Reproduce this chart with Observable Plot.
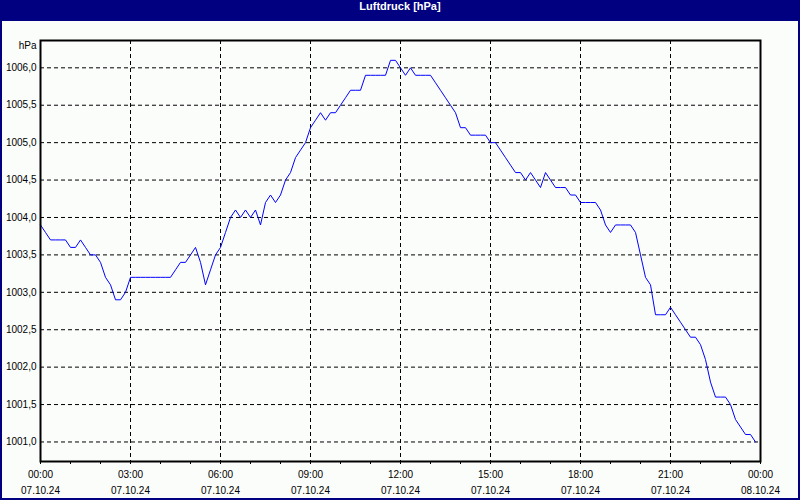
<!DOCTYPE html>
<html>
<head>
<meta charset="utf-8">
<script src="https://cdn.jsdelivr.net/npm/d3@7"></script>
<script src="https://cdn.jsdelivr.net/npm/@observablehq/plot@0.6"></script>
<style>
  html, body { margin: 0; padding: 0; background: #fff; }
  #wrap { position: relative; width: 800px; height: 500px; background: #000080; overflow: hidden; }
  #title { position: absolute; left: 0; top: 0; width: 800px; height: 21px; line-height: 20px; text-align: center;
           color: #fff; font: bold 11px "Liberation Sans", "DejaVu Sans", sans-serif; }
  #inner { position: absolute; left: 2px; top: 21px; width: 796px; height: 477px; background: #fbfdfb; }
  #chart { position: absolute; left: 0; top: 21px; }
  #chart svg { background: transparent; }
</style>
</head>
<body>
<div id="wrap">
  <div id="title">Luftdruck [hPa]</div>
  <div id="inner"></div>
  <div id="chart"></div>
</div>
<script>
// 10-minute readings, 07.10.24 00:00 – 23:50
const times = [
  "00:00","00:10","00:20","00:30","00:40","00:50","01:00","01:10","01:20","01:30","01:40","01:50",
  "02:00","02:10","02:20","02:30","02:40","02:50","03:00","03:10","03:20","03:30","03:40","03:50",
  "04:00","04:10","04:20","04:30","04:40","04:50","05:00","05:10","05:20","05:30","05:40","05:50",
  "06:00","06:10","06:20","06:30","06:40","06:50","07:00","07:10","07:20","07:30","07:40","07:50",
  "08:00","08:10","08:20","08:30","08:40","08:50","09:00","09:10","09:20","09:30","09:40","09:50",
  "10:00","10:10","10:20","10:30","10:40","10:50","11:00","11:10","11:20","11:30","11:40","11:50",
  "12:00","12:10","12:20","12:30","12:40","12:50","13:00","13:10","13:20","13:30","13:40","13:50",
  "14:00","14:10","14:20","14:30","14:40","14:50","15:00","15:10","15:20","15:30","15:40","15:50",
  "16:00","16:10","16:20","16:30","16:40","16:50","17:00","17:10","17:20","17:30","17:40","17:50",
  "18:00","18:10","18:20","18:30","18:40","18:50","19:00","19:10","19:20","19:30","19:40","19:50",
  "20:00","20:10","20:20","20:30","20:40","20:50","21:00","21:10","21:20","21:30","21:40","21:50",
  "22:00","22:10","22:20","22:30","22:40","22:50","23:00","23:10","23:20","23:30","23:40","23:50"
];
const pressure = [
  1003.9,1003.8,1003.7,1003.7,1003.7,1003.7,1003.6,1003.6,1003.7,1003.6,1003.5,1003.5,
  1003.4,1003.2,1003.1,1002.9,1002.9,1003.0,1003.2,1003.2,1003.2,1003.2,1003.2,1003.2,
  1003.2,1003.2,1003.2,1003.3,1003.4,1003.4,1003.5,1003.6,1003.4,1003.1,1003.3,1003.5,
  1003.6,1003.8,1004.0,1004.1,1004.0,1004.1,1004.0,1004.1,1003.9,1004.2,1004.3,1004.2,
  1004.3,1004.5,1004.6,1004.8,1004.9,1005.0,1005.2,1005.3,1005.4,1005.3,1005.4,1005.4,
  1005.5,1005.6,1005.7,1005.7,1005.7,1005.9,1005.9,1005.9,1005.9,1005.9,1006.1,1006.1,
  1006.0,1005.9,1006.0,1005.9,1005.9,1005.9,1005.9,1005.8,1005.7,1005.6,1005.5,1005.4,
  1005.2,1005.2,1005.1,1005.1,1005.1,1005.1,1005.0,1005.0,1004.9,1004.8,1004.7,1004.6,
  1004.6,1004.5,1004.6,1004.5,1004.4,1004.6,1004.5,1004.4,1004.4,1004.4,1004.3,1004.3,
  1004.2,1004.2,1004.2,1004.2,1004.1,1003.9,1003.8,1003.9,1003.9,1003.9,1003.9,1003.8,
  1003.5,1003.2,1003.1,1002.7,1002.7,1002.7,1002.8,1002.7,1002.6,1002.5,1002.4,1002.4,
  1002.3,1002.1,1001.8,1001.6,1001.6,1001.6,1001.5,1001.3,1001.2,1001.1,1001.1,1001.0
];
const yTicks = [1001.0,1001.5,1002.0,1002.5,1003.0,1003.5,1004.0,1004.5,1005.0,1005.5,1006.0];
const xTickTimes = ["00:00","03:00","06:00","09:00","12:00","15:00","18:00","21:00","00:00"];
const xTickDates = ["07.10.24","07.10.24","07.10.24","07.10.24","07.10.24","07.10.24","07.10.24","07.10.24","08.10.24"];
const yUnit = "hPa";

const day0 = Date.UTC(2024, 9, 7);
const toDate = (s, dayOffset = 0) => {
  const [h, m] = s.split(":").map(Number);
  return new Date(day0 + dayOffset * 86400000 + (h * 60 + m) * 60000);
};
const data = times.map((t, i) => ({date: toDate(t), value: pressure[i]}));
const majorTicks = xTickTimes.map((t, i) => ({date: toDate(t, i === xTickTimes.length - 1 ? 1 : 0), time: t, day: xTickDates[i]}));
const hourTicks = d3.utcHours(new Date(day0), new Date(day0 + 86400000 + 1));
const xDomain = [new Date(day0), new Date(day0 + 86400000)];
const font = "'Liberation Sans', 'DejaVu Sans', sans-serif";

const chart = Plot.plot({
  width: 800,
  height: 477,
  marginLeft: 40,
  marginRight: 40,
  marginTop: 19,
  marginBottom: 37,
  style: {fontFamily: font, fontSize: "10px", color: "#000", background: "transparent"},
  x: {type: "utc", domain: xDomain},
  y: {domain: [1000.739, 1006.365]},
  marks: [
    Plot.gridY(yTicks, {stroke: "#000", strokeOpacity: 1, strokeDasharray: "4,3", strokeWidth: 1}),
    Plot.gridX(majorTicks.slice(1, -1).map(d => d.date), {stroke: "#000", strokeOpacity: 1, strokeDasharray: "4,3", strokeWidth: 1}),
    Plot.line(data, {x: "date", y: "value", stroke: "#0000ff", strokeWidth: 1}),
    Plot.frame({stroke: "#000", strokeWidth: 2}),
    Plot.axisY(yTicks, {tickSize: 0, tickPadding: 4, tickFormat: d => d.toFixed(1).replace(".", ","), label: null, fontSize: 10}),
    Plot.axisX(hourTicks, {tickSize: 3, tickFormat: () => "", label: null}),
    Plot.text(majorTicks, {x: "date", text: "time", frameAnchor: "bottom", dy: 13, fontSize: 10, lineAnchor: "middle"}),
    Plot.text(majorTicks, {x: "date", text: "day", frameAnchor: "bottom", dy: 29, fontSize: 10, lineAnchor: "middle"}),
    Plot.text([yUnit], {text: d => d, frameAnchor: "top-left", dx: -4, dy: 5, textAnchor: "end", fontSize: 10, lineAnchor: "middle"})
  ]
});
document.getElementById("chart").appendChild(chart);
</script>
</body>
</html>
